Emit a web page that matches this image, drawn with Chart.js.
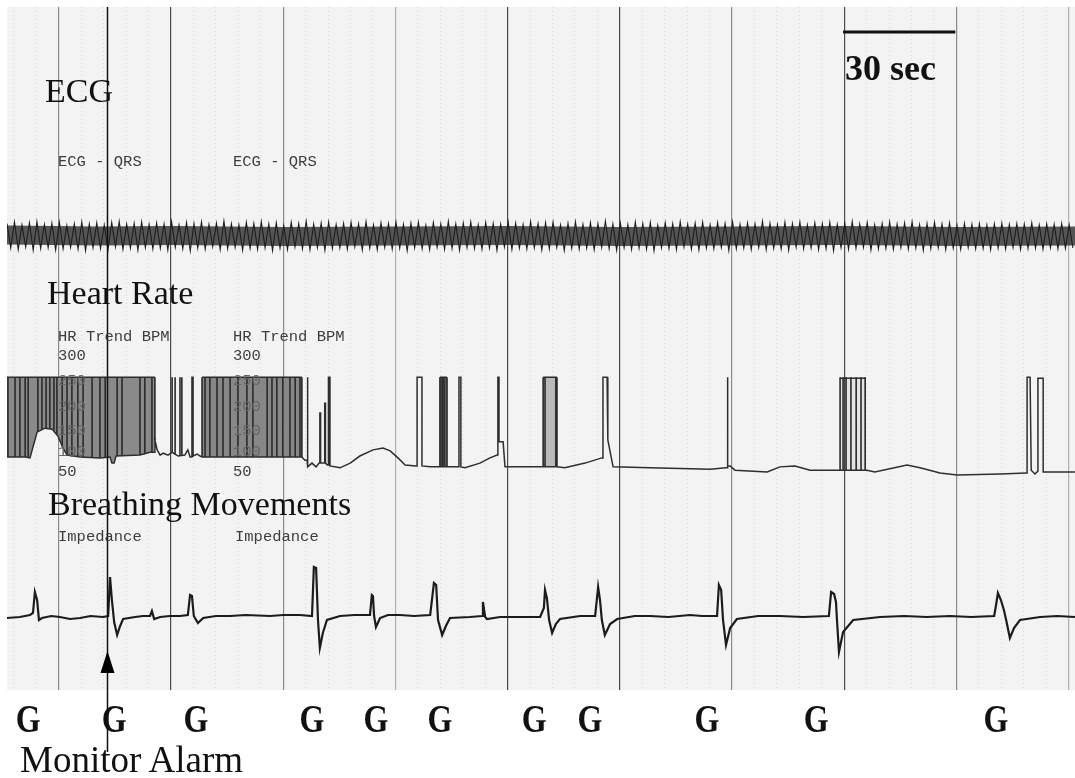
<!DOCTYPE html>
<html>
<head>
<meta charset="utf-8">
<script src="https://cdn.jsdelivr.net/npm/chart.js"></script>
<style>
  html, body { margin:0; padding:0; background:#fff; }
  #wrap { position:relative; width:1075px; height:778px; overflow:hidden; }
  #c { position:absolute; left:0; top:0; width:1075px; height:778px; }
  .lbl { position:absolute; line-height:1; white-space:nowrap; z-index:2; }
  .serif { font-family:'Liberation Serif','Times New Roman',serif; font-size:34px; color:#111; }
  .mono { font-family:'Liberation Mono','DejaVu Sans Mono',monospace; font-size:15.5px; color:#3d3d3d; }
  .g { position:absolute; top:698px; line-height:1; font-family:'Liberation Serif','Times New Roman',serif;
       font-weight:bold; font-size:32px; color:#111; transform-origin:center top;
       transform:translateX(-50%) scale(1,1.25); z-index:2; }
</style>
</head>
<body>
<div id="wrap">
  <canvas id="c" width="1075" height="778"></canvas>
  <div class="lbl serif" style="left:45px;top:74px">ECG</div>
  <div class="lbl serif" style="left:47px;top:276px">Heart Rate</div>
  <div class="lbl serif" style="left:48px;top:487px">Breathing Movements</div>
  <div class="lbl serif" style="left:845px;top:50px;font-weight:bold;font-size:36px">30 sec</div>
  <div class="lbl serif" style="left:20px;top:741px;font-size:37px">Monitor Alarm</div>

  <div class="lbl mono" style="left:58px;top:155px">ECG - QRS</div>
  <div class="lbl mono" style="left:233px;top:155px">ECG - QRS</div>
  <div class="lbl mono" style="left:58px;top:330px">HR Trend BPM</div>
  <div class="lbl mono" style="left:233px;top:330px">HR Trend BPM</div>
  <div class="lbl mono" style="left:58px;top:349px">300</div>
  <div class="lbl mono" style="left:233px;top:349px">300</div>
  <div class="lbl mono" style="left:58px;top:374px;color:#666">250</div>
  <div class="lbl mono" style="left:233px;top:374px;color:#666">250</div>
  <div class="lbl mono" style="left:58px;top:400px;color:#666">200</div>
  <div class="lbl mono" style="left:233px;top:400px;color:#666">200</div>
  <div class="lbl mono" style="left:58px;top:424px;color:#666">150</div>
  <div class="lbl mono" style="left:233px;top:424px;color:#666">150</div>
  <div class="lbl mono" style="left:58px;top:445px;color:#666">100</div>
  <div class="lbl mono" style="left:233px;top:445px;color:#666">100</div>
  <div class="lbl mono" style="left:58px;top:465px">50</div>
  <div class="lbl mono" style="left:233px;top:465px">50</div>
  <div class="lbl mono" style="left:58px;top:530px">Impedance</div>
  <div class="lbl mono" style="left:235px;top:530px">Impedance</div>
</div>
<script>
// ---------------- DATA (time in seconds) ----------------
// ECG band: alternating QRS deflections, sampled every 1 s starting at the left edge
const ecgStart = -43.85;
const ecgStep = 1.0;
const ecgHigh = [
  0.62,0.70,0.55,0.66,0.72,0.58,0.64,0.69,0.52,0.61,
  0.71,0.60,0.66,0.55,0.68,0.73,0.59,0.63,0.70,0.57,
  0.65,0.60,0.72,0.54,0.67,0.62,0.70,0.58,0.64,0.75,
  0.61,0.56,0.69,0.63,0.71,0.60,0.66,0.52,0.68,0.62,
  0.74,0.59,0.65,0.70,0.57,0.63,0.68,0.61,0.72,0.55,
  0.66,0.62,0.70,0.58,0.64,0.69,0.53,0.67,0.61,0.73,
  0.60,0.65,0.71,0.56,0.68,0.62,0.59,0.70,0.64,0.57,
  0.72,0.61,0.66,0.69,0.55,0.63,0.71,0.58,0.67,0.62,
  0.74,0.60,0.65,0.57,0.70,0.63,0.68,0.54,0.66,0.61,
  0.72,0.59,0.64,0.69,0.56,0.67,0.62,0.71,0.58,0.65,
  0.60,0.73,0.63,0.57,0.68,0.62,0.70,0.55,0.66,0.61,
  0.69,0.58,0.64,0.72,0.60,0.67,0.56,0.63,0.70,0.59,
  0.65,0.71,0.57,0.62,0.68,0.60,0.66,0.54,0.63,0.58,
  0.61,0.55,0.60,0.64,0.57,0.62,0.59,0.66,0.55,0.61,
  0.58,0.63,0.56
];
const ecgLow = [
  -0.60,-0.68,-0.55,-0.72,-0.62,-0.58,-0.70,-0.64,-0.57,-0.66,
  -0.73,-0.59,-0.63,-0.69,-0.54,-0.67,-0.61,-0.71,-0.58,-0.65,
  -0.62,-0.70,-0.56,-0.64,-0.74,-0.60,-0.66,-0.53,-0.68,-0.63,
  -0.57,-0.71,-0.62,-0.66,-0.59,-0.73,-0.61,-0.67,-0.55,-0.64,
  -0.69,-0.58,-0.72,-0.63,-0.60,-0.66,-0.54,-0.70,-0.62,-0.68,
  -0.57,-0.65,-0.61,-0.74,-0.59,-0.64,-0.69,-0.56,-0.67,-0.62,
  -0.71,-0.58,-0.63,-0.66,-0.60,-0.72,-0.55,-0.68,-0.61,-0.65,
  -0.59,-0.70,-0.64,-0.57,-0.73,-0.62,-0.66,-0.60,-0.69,-0.56,
  -0.63,-0.71,-0.58,-0.67,-0.61,-0.65,-0.74,-0.59,-0.62,-0.68,
  -0.55,-0.66,-0.70,-0.60,-0.64,-0.57,-0.72,-0.63,-0.61,-0.67,
  -0.58,-0.69,-0.62,-0.65,-0.71,-0.56,-0.64,-0.60,-0.68,-0.63,
  -0.73,-0.59,-0.66,-0.61,-0.57,-0.70,-0.64,-0.62,-0.67,-0.58,
  -0.65,-0.60,-0.72,-0.63,-0.59,-0.68,-0.61,-0.66,-0.57,-0.64,
  -0.62,-0.69,-0.60,-0.65,-0.58,-0.67,-0.63,-0.61,-0.66,-0.59,
  -0.64,-0.62,-0.60
];
const ecgCoreT = [-43.85, -20, 0, 30, 60, 90, 120, 150, 180, 210, 241.71];
const ecgCoreV = [0.05, 0.00, 0.03, -0.02, 0.00, 0.02, -0.03, 0.00, 0.02, -0.02, 0.00];

// Heart-rate trend (BPM)
const hrT = [
  -43.9,-39.0,-37.7,-35.8,-33.7,-31.8,-30.2,-28.9,-27.8,-24.3,
  -19.0,-16.3,-15.8,-15.2,-14.7,-8.3,-5.6,-4.5,-4.3,-3.7,
  -2.9,-2.1,-0.8,0.3,1.9,3.7,4.5,5.1,5.6,5.6,
  5.9,5.9,7.0,7.8,8.3,21.1,35.0,35.8,36.4,36.4,
  36.6,36.6,37.7,38.8,39.6,39.8,39.8,40.0,40.0,40.9,
  41.1,41.1,41.3,41.3,41.8,42.1,42.1,42.5,42.5,45.2,
  47.9,50.5,54.0,56.7,58.6,60.7,62.6,65.5,65.8,65.8,
  67.1,67.1,69.3,71.9,73.8,76.7,77.0,77.0,77.5,77.5,
  78.6,82.6,85.3,87.2,87.4,87.4,87.7,87.7,88.8,89.3,
  99.5,103.2,105.3,110.7,115.2,115.5,115.5,116.6,116.8,118.2,
  128.1,144.1,148.4,148.7,148.7,148.9,148.9,149.5,150.8,159.4,
  162.8,166.8,170.9,178.3,178.9,185.8,186.1,188.2,196.8,200.3,
  205.6,210.2,221.7,228.6,228.9,228.9,229.7,230.0,231.0,231.8,
  231.8,233.2,233.2,235.0,241.7
];
const hrBpm = [
  84,84,82,137,145,143,128,103,88,84,
  82,84,71,71,86,88,94,94,120,99,
  88,92,88,94,86,88,99,84,84,253,
  253,86,90,86,84,84,84,77,77,253,
  253,63,71,63,71,71,177,177,71,71,
  71,198,198,71,67,67,253,253,65,61,
  71,86,99,103,97,82,67,65,65,253,
  253,65,63,63,63,63,63,253,253,63,
  61,71,82,88,88,253,253,116,116,63,
  63,63,61,71,82,82,253,253,120,63,
  61,58,61,61,253,253,65,65,56,52,
  63,65,56,56,56,56,56,52,67,61,
  50,46,48,50,50,253,253,56,48,54,
  251,251,52,52,52
];
// Saturated HR artefact blocks (start, end, top BPM)
const hrBlockStart = [-43.9, 8.3, 71.9, 99.5, 178.9];
const hrBlockEnd   = [-4.3, 35.0, 73.8, 103.2, 185.8];
const hrBlockTop   = [253, 253, 253, 253, 251];
// Individual vertical trend strokes inside the blocks
const hrStripeT = [
  -43.9,-43.6,-41.7,-40.4,-39.0,-38.2,-35.6,-34.5,-33.4,-32.4,
  -31.3,-30.5,-29.1,-27.8,-26.5,-24.9,-23.5,-21.1,-19.0,-17.6,
  -14.4,-13.1,-8.3,-7.0,-5.1,-4.3,
  0.3,1.1,2.4,2.9,
  8.3,9.1,10.4,12.3,13.9,15.8,17.9,20.3,21.9,25.7,
  27.0,28.3,29.9,31.8,33.2,34.5,35.0,
  71.9,72.5,73.0,73.8,
  99.5,100.0,102.9,103.2,
  178.9,179.7,180.5,181.8,183.2,184.5,185.6
];
const hrStripeLow = [
  84,84,84,84,84,83,138,143,145,144,
  140,132,108,88,85,84,84,83,82,83,
  86,86,88,90,94,120,
  94,90,86,86,
  84,84,84,84,84,84,84,84,84,84,
  84,84,84,84,84,84,84,
  63,63,63,63,
  63,63,63,63,
  56,56,56,56,56,56,56
];
const hrStripeTop = 253;

// Breathing movements (impedance, arbitrary units)
const respT = [
  -43.9,-40.4,-37.7,-36.9,-36.4,-35.8,-35.3,-34.5,-32.0,-29.7,
  -27.0,-24.3,-21.5,-18.2,-16.8,-16.3,-15.8,-15.2,-14.4,-13.6,
  -12.8,-9.6,-7.5,-5.6,-5.1,-4.5,-2.9,-0.3,2.4,4.5,
  5.1,5.6,6.1,7.2,8.6,12.0,15.8,20.0,26.5,30.0,
  34.5,37.7,38.2,38.8,39.3,39.8,40.6,41.7,45.2,49.0,
  53.2,53.7,54.0,54.3,54.8,55.9,58.0,61.2,65.0,69.3,
  70.3,70.9,71.4,72.5,73.5,74.6,79.9,83.2,83.4,84.0,
  84.5,88.0,93.3,98.7,99.7,100.0,100.5,101.1,101.9,102.9,
  104.0,109.4,113.4,113.9,114.2,114.7,115.2,116.0,117.4,119.3,
  124.0,128.1,133.0,138.8,142.0,146.0,146.5,147.1,147.6,148.4,
  149.5,151.3,157.0,162.8,169.0,175.9,176.5,177.3,177.8,178.1,
  178.6,179.7,182.4,189.6,196.0,202.0,208.3,214.0,220.1,220.6,
  221.1,221.9,222.7,223.3,224.3,225.4,227.0,232.4,237.0,241.7
];
const respV = [
  -0.1,0.0,0.2,0.4,2.5,1.7,-0.3,-0.1,0.1,0.0,
  -0.2,-0.1,0.1,0.0,0.1,4.0,1.7,-0.5,-1.8,-0.9,
  -0.2,0.0,0.1,0.1,0.6,-0.2,0.0,0.1,0.1,0.2,
  2.2,2.1,0.1,-0.6,-0.1,0.1,0.1,0.2,0.1,0.2,
  0.2,0.1,5.0,4.9,-0.3,-3.1,-1.6,-0.3,0.1,0.2,
  0.2,2.2,2.1,0.1,-1.0,-0.1,0.2,0.2,0.1,0.2,
  3.4,3.2,-0.3,-1.8,-0.9,-0.1,0.0,0.1,1.5,0.0,
  -0.2,0.0,0.0,0.0,0.9,2.7,1.9,-0.3,-1.6,-0.7,
  -0.2,0.1,0.1,1.9,3.0,1.7,-0.3,-1.8,-0.7,-0.2,
  0.1,0.1,0.0,0.2,0.1,0.1,3.2,2.7,-0.3,-2.8,
  -1.1,-0.2,0.1,0.1,0.0,0.1,2.5,2.3,1.5,-0.5,
  -3.5,-1.5,-0.3,0.0,0.1,0.0,0.1,0.0,0.1,1.2,
  2.4,1.7,0.7,-0.3,-2.1,-1.1,-0.3,0.0,0.1,0.0
];

// Event markers
const gaspT = [-38.2, -15.2, 6.7, 37.7, 54.8, 71.9, 97.1, 112.0, 143.3, 172.5, 220.6];
const gaspLabel = 'G';
const alarmT = -17.1;
const scaleBarStart = 179.7;
const scaleBarLength = 30;   // seconds
const scaleBarLevel = 10.2;  // on ECG axis
// Chart-paper time grid
const majorGridT = [-30, 0, 30, 60, 90, 120, 150, 180, 210, 240];
const darkGridT = [0, 90, 120, 180];
const lightGridT = [60, 240];
const minorGridStep = 6;

// ---------------- CHART ----------------
const X_MIN = -43.85, X_MAX = 241.71;
const pts = (ts, vs) => ts.map((t, i) => ({x: t, y: vs[i]}));

const datasets = [];
// scale bar (30 sec)
datasets.push({
  data: [{x: scaleBarStart, y: scaleBarLevel}, {x: scaleBarStart + scaleBarLength, y: scaleBarLevel}],
  yAxisID: 'yEcg', borderColor: '#111', borderWidth: 3, fill: false, order: 0
});
// HR trace
const HR_IDX = datasets.length;
datasets.push({
  data: pts(hrT, hrBpm), yAxisID: 'yHr', borderColor: '#2e2e2e', borderWidth: 1.5,
  fill: false, order: 1, borderJoinStyle: 'miter'
});
// HR saturated blocks
const blockFill = ['#8a8a8a', '#878787', '#5e5e5e', '#b9b9b9', 'rgba(0,0,0,0.06)'];
hrBlockStart.forEach((s, i) => {
  datasets.push({
    data: [{x: s, y: hrBlockTop[i]}, {x: hrBlockEnd[i], y: hrBlockTop[i]}],
    yAxisID: 'yHr', borderColor: '#2a2a2a', borderWidth: 1.5,
    backgroundColor: blockFill[i], fill: HR_IDX, order: 6
  });
});
// HR stripes
const stripePts = [];
hrStripeT.forEach((t, i) => {
  stripePts.push({x: t, y: hrStripeLow[i]});
  stripePts.push({x: t, y: hrStripeTop});
  stripePts.push({x: t, y: null});
});
datasets.push({
  data: stripePts, yAxisID: 'yHr', borderColor: '#2b2b2b', borderWidth: 1.6,
  fill: false, spanGaps: false, order: 3
});
// ECG core band
datasets.push({
  data: pts(ecgCoreT, ecgCoreV), yAxisID: 'yEcg', borderColor: 'rgba(40,40,40,0.78)',
  borderWidth: 19, fill: false, order: 7
});
// ECG QRS zigzag
const ecgPts = [];
ecgHigh.forEach((v, i) => {
  ecgPts.push({x: ecgStart + 2 * i * ecgStep, y: v});
  ecgPts.push({x: ecgStart + (2 * i + 1) * ecgStep, y: ecgLow[i]});
});
datasets.push({
  data: ecgPts, yAxisID: 'yEcg', borderColor: '#1e1e1e', borderWidth: 1.1,
  fill: false, order: 4
});
// Breathing
datasets.push({
  data: pts(respT, respV), yAxisID: 'yResp', borderColor: '#1c1c1c', borderWidth: 2.2,
  fill: false, order: 2, borderJoinStyle: 'miter'
});

function gridColor(v) {
  if (darkGridT.includes(v)) return '#4a4a4a';
  if (lightGridT.includes(v)) return '#b0b0b0';
  if (majorGridT.includes(v)) return '#8a8a8a';
  return 'rgba(0,0,0,0.10)';
}

const paperPlugin = {
  id: 'paper',
  beforeDraw(chart) {
    const {ctx, chartArea: a} = chart;
    ctx.save();
    ctx.fillStyle = '#fff';
    ctx.fillRect(0, 0, chart.width, chart.height);
    ctx.fillStyle = '#f3f3f3';
    ctx.fillRect(a.left, a.top, a.right - a.left, a.bottom - a.top);
    ctx.restore();
  },
  afterDatasetsDraw(chart) {
    const {ctx, chartArea: a} = chart;
    const x = Math.round(chart.scales.x.getPixelForValue(alarmT)) + 0.5;
    ctx.save();
    ctx.strokeStyle = '#111';
    ctx.lineWidth = 1.5;
    ctx.beginPath();
    ctx.moveTo(x, a.top);
    ctx.lineTo(x, 752);
    ctx.stroke();
    ctx.fillStyle = '#000';
    ctx.beginPath();
    ctx.moveTo(x, 651);
    ctx.lineTo(x - 7, 673);
    ctx.lineTo(x + 7, 673);
    ctx.closePath();
    ctx.fill();
    ctx.restore();
  }
};

const isMajor = (c) => !!(c.tick && majorGridT.includes(c.tick.value));

const chart = new Chart(document.getElementById('c'), {
  type: 'line',
  data: {datasets},
  plugins: [paperPlugin],
  options: {
    responsive: false,
    animation: false,
    events: [],
    layout: {padding: {left: 7, top: 7, right: 0, bottom: 88}},
    plugins: {legend: {display: false}, tooltip: {enabled: false}},
    elements: {point: {radius: 0}, line: {tension: 0}},
    scales: {
      x: {
        type: 'linear', min: X_MIN, max: X_MAX, display: true,
        afterBuildTicks: (s) => {
          const t = [];
          for (let v = -42; v <= 240; v += minorGridStep) t.push({value: v});
          s.ticks = t;
        },
        ticks: {display: false},
        grid: {
          drawTicks: false,
          color: (c) => gridColor(c.tick ? c.tick.value : 0),
          lineWidth: (c) => isMajor(c) ? 1.2 : 1
        },
        border: {display: false, dash: (c) => isMajor(c) ? [] : [1, 3]}
      },
      yEcg: {type: 'linear', display: false, min: -22.7, max: 11.45},
      yHr: {type: 'linear', display: false, min: -410.04, max: 1037.92},
      yResp: {type: 'linear', display: false, min: -7.3, max: 61.0}
    }
  }
});

// Event labels placed through the time scale
const wrap = document.getElementById('wrap');
gaspT.forEach((t) => {
  const d = document.createElement('div');
  d.className = 'g';
  d.textContent = gaspLabel;
  d.style.left = chart.scales.x.getPixelForValue(t) + 'px';
  wrap.appendChild(d);
});
</script>
</body>
</html>
